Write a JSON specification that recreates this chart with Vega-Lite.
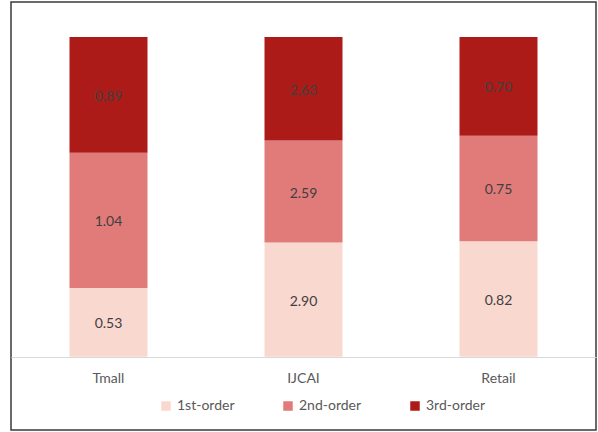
{
  "$schema": "https://vega.github.io/schema/vega-lite/v6.json",
  "autosize": {"type": "none"},
  "padding": {"left": 11, "top": 2, "right": 1, "bottom": 2},
  "width": 585,
  "height": 428,
  "background": "white",
  "config": {
    "view": {"stroke": "#3a3a3a", "strokeWidth": 1.5},
    "font": "Lato"
  },
  "data": {
    "values": [
      {"dataset": "Tmall", "order": "1st-order", "rank": 1, "value": 0.53},
      {"dataset": "Tmall", "order": "2nd-order", "rank": 2, "value": 1.04},
      {"dataset": "Tmall", "order": "3rd-order", "rank": 3, "value": 0.89},
      {"dataset": "IJCAI", "order": "1st-order", "rank": 1, "value": 2.90},
      {"dataset": "IJCAI", "order": "2nd-order", "rank": 2, "value": 2.59},
      {"dataset": "IJCAI", "order": "3rd-order", "rank": 3, "value": 2.63},
      {"dataset": "Retail", "order": "1st-order", "rank": 1, "value": 0.82},
      {"dataset": "Retail", "order": "2nd-order", "rank": 2, "value": 0.75},
      {"dataset": "Retail", "order": "3rd-order", "rank": 3, "value": 0.70}
    ]
  },
  "transform": [
    {"stack": "value", "groupby": ["dataset"], "sort": [{"field": "rank", "order": "ascending"}], "offset": "normalize", "as": ["y0", "y1"]},
    {"calculate": "(datum.y0 + datum.y1) / 2", "as": "ymid"}
  ],
  "encoding": {
    "x": {
      "field": "dataset",
      "type": "nominal",
      "sort": ["Tmall", "IJCAI", "Retail"],
      "scale": {"paddingInner": 0.6, "paddingOuter": 0.3},
      "axis": {
        "title": null,
        "orient": "bottom",
        "offset": -73,
        "ticks": false,
        "labelAngle": 0,
        "labelFontSize": 14,
        "labelColor": "#595959",
        "labelPadding": 14,
        "domainColor": "#d9d9d9",
        "domainWidth": 1
      }
    }
  },
  "layer": [
    {
      "mark": {"type": "bar"},
      "encoding": {
        "y": {
          "field": "y0",
          "type": "quantitative",
          "scale": {"domain": [-0.229, 1.1097], "nice": false, "zero": false},
          "axis": null
        },
        "y2": {"field": "y1"},
        "color": {
          "field": "order",
          "type": "nominal",
          "scale": {
            "domain": ["1st-order", "2nd-order", "3rd-order"],
            "range": ["#F9D8D0", "#E07B7A", "#AD1B18"]
          },
          "legend": {
            "title": null,
            "orient": "none",
            "direction": "horizontal",
            "legendX": 148,
            "legendY": 397,
            "symbolType": "square",
            "symbolSize": 90,
            "symbolStrokeWidth": 0,
            "labelFontSize": 14,
            "labelColor": "#595959",
            "labelOffset": 4,
            "columnPadding": 46
          }
        }
      }
    },
    {
      "mark": {"type": "text", "fontSize": 14, "color": "#404040", "dy": 2},
      "encoding": {
        "y": {"field": "ymid", "type": "quantitative"},
        "text": {"field": "value", "type": "quantitative", "format": ".2f"}
      }
    }
  ]
}
